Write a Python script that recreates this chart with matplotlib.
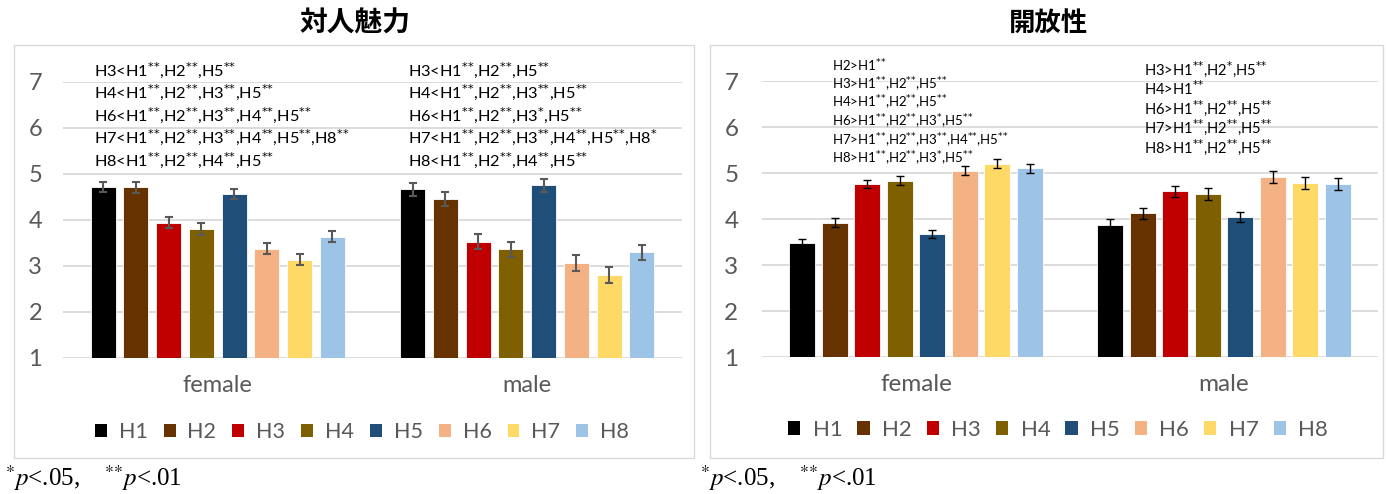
import matplotlib
matplotlib.use("Agg")
import matplotlib.pyplot as plt
from matplotlib.patches import Rectangle, Patch
import numpy as np

# ---- data ----
groups = ["female", "male"]
series = ["H1", "H2", "H3", "H4", "H5", "H6", "H7", "H8"]
colors = ["#000000", "#663300", "#C00000", "#7F6000",
          "#1F4E79", "#F4B183", "#FFD966", "#9DC3E6"]

attr_female = [4.71, 4.71, 3.94, 3.80, 4.57, 3.38, 3.14, 3.64]
attr_female_err = [0.11, 0.12, 0.115, 0.125, 0.11, 0.12, 0.125, 0.12]
attr_male = [4.67, 4.46, 3.53, 3.36, 4.75, 3.06, 2.80, 3.30]
attr_male_err = [0.145, 0.15, 0.16, 0.16, 0.14, 0.17, 0.17, 0.16]

open_female = [3.47, 3.92, 4.76, 4.83, 3.68, 5.05, 5.20, 5.10]
open_female_err = [0.09, 0.10, 0.095, 0.095, 0.09, 0.10, 0.095, 0.10]
open_male = [3.88, 4.12, 4.60, 4.54, 4.04, 4.91, 4.78, 4.76]
open_male_err = [0.13, 0.12, 0.125, 0.13, 0.11, 0.13, 0.135, 0.13]

yticks = [1, 2, 3, 4, 5, 6, 7]

S2 = r"$^{{*}{*}}$"
S1 = r"$^{*}$"

attr_notes_female = [
    f"H3<H1{S2},H2{S2},H5{S2}",
    f"H4<H1{S2},H2{S2},H3{S2},H5{S2}",
    f"H6<H1{S2},H2{S2},H3{S2},H4{S2},H5{S2}",
    f"H7<H1{S2},H2{S2},H3{S2},H4{S2},H5{S2},H8{S2}",
    f"H8<H1{S2},H2{S2},H4{S2},H5{S2}",
]
attr_notes_male = [
    f"H3<H1{S2},H2{S2},H5{S2}",
    f"H4<H1{S2},H2{S2},H3{S2},H5{S2}",
    f"H6<H1{S2},H2{S2},H3{S1},H5{S2}",
    f"H7<H1{S2},H2{S2},H3{S2},H4{S2},H5{S2},H8{S1}",
    f"H8<H1{S2},H2{S2},H4{S2},H5{S2}",
]
open_notes_female = [
    f"H2>H1{S2}",
    f"H3>H1{S2},H2{S2},H5{S2}",
    f"H4>H1{S2},H2{S2},H5{S2}",
    f"H6>H1{S2},H2{S2},H3{S1},H5{S2}",
    f"H7>H1{S2},H2{S2},H3{S2},H4{S2},H5{S2}",
    f"H8>H1{S2},H2{S2},H3{S1},H5{S2}",
]
open_notes_male = [
    f"H3>H1{S2},H2{S1},H5{S2}",
    f"H4>H1{S2}",
    f"H6>H1{S2},H2{S2},H5{S2}",
    f"H7>H1{S2},H2{S2},H5{S2}",
    f"H8>H1{S2},H2{S2},H5{S2}",
]

W, H = 1386, 494
plt.rcParams["font.family"] = ["Lato", "DejaVu Sans"]
fig = plt.figure(figsize=(W / 100, H / 100), dpi=100)
fig.patch.set_facecolor("white")

GRAY = "#595959"
GRID = "#D9D9D9"


def fx(px):
    return px / W


def fy(py):
    return 1 - py / H


def panel(x0, x1, y_top, y_bot, female, female_err, male, male_err,
          err_color, err_lw, cap, tick_pad, font, bar_w):
    ax = fig.add_axes([fx(x0), fy(y_bot), (x1 - x0) / W, (y_bot - y_top) / H])
    slot = 0.1057
    offs = (np.arange(len(series)) - 3.5) * slot
    for i, name in enumerate(series):
        vals = [female[i], male[i]]
        errs = [female_err[i], male_err[i]]
        xs = np.arange(len(groups)) + offs[i]
        ax.bar(xs, vals, width=bar_w, bottom=0, color=colors[i],
               edgecolor="white", linewidth=0.6, zorder=3, label=name)
        ax.errorbar(xs, vals, yerr=errs, fmt="none", ecolor=err_color,
                    elinewidth=err_lw, capsize=cap, capthick=err_lw, zorder=4)
    ax.set_xlim(-0.5, 1.5)
    ax.set_ylim(1, 7)
    ax.set_yticks(yticks)
    ax.set_yticklabels([str(t) for t in yticks])
    ax.yaxis.grid(True, color=GRID, linewidth=1.3, zorder=0)
    ax.set_axisbelow(True)
    for s in ax.spines.values():
        s.set_visible(False)
    ax.tick_params(axis="y", length=0, pad=tick_pad, labelsize=font,
                   labelcolor=GRAY)
    ax.set_xticks(range(len(groups)))
    ax.set_xticklabels(groups)
    ax.tick_params(axis="x", length=0, pad=12, labelsize=font,
                   labelcolor=GRAY)
    return ax


ax1 = panel(63, 682, 82, 358, attr_female, attr_female_err,
            attr_male, attr_male_err, GRAY, 1.5, 3.2, 15, 17, 0.081)
ax2 = panel(762, 1378, 81, 357, open_female, open_female_err,
            open_male, open_male_err, "#000000", 1.0, 3.0, 17, 17.5, 0.084)

# panel frames
for (x0, x1) in [(14, 694), (710, 1383)]:
    fig.add_artist(Rectangle((fx(x0), fy(458)), (x1 - x0) / W, (458 - 45) / H,
                             transform=fig.transFigure, fill=False,
                             edgecolor=GRID, linewidth=1.0))

# titles
fig.text(fx(355), fy(23), "対人魅力", ha="center", va="center",
         fontsize=20, fontweight="bold",
         family=["Noto Sans CJK JP", "DejaVu Sans"])
fig.text(fx(1048), fy(23), "開放性", ha="center", va="center",
         fontsize=19, fontweight="bold",
         family=["Noto Sans CJK JP", "DejaVu Sans"])


def notes(lines, x, y0, dy, size):
    for k, s in enumerate(lines):
        fig.text(fx(x), fy(y0 + k * dy), s, ha="left", va="center",
                 fontsize=size, color="#000000", math_fontfamily="dejavusans")


notes(attr_notes_female, 94, 70, 22.5, 11.8)
notes(attr_notes_male, 408, 70, 22.5, 11.8)
notes(open_notes_female, 832, 66, 18.6, 9.5)
notes(open_notes_male, 1144, 69, 19.5, 10.6)

# legends
handles = [Patch(facecolor=c, edgecolor="none") for c in colors]
for cx, cy, sz, cs in [(362, 432, 15.5, 0.75), (1058, 430, 16, 0.68)]:
    fig.legend(handles, series, loc="center", ncol=8,
               bbox_to_anchor=(fx(cx), fy(cy)), frameon=False,
               fontsize=sz, labelcolor=GRAY, handlelength=0.55,
               handleheight=0.55, handletextpad=0.55, columnspacing=cs,
               borderpad=0)

# significance footnotes
for x in [5, 700]:
    fig.text(fx(x), fy(478), r"$^{*}p$<.05,    $^{{*}{*}}p$<.01", ha="left",
             va="center", fontsize=18, family="Liberation Serif",
             math_fontfamily="stix")

fig.savefig("out.png", dpi=100, facecolor="white")
